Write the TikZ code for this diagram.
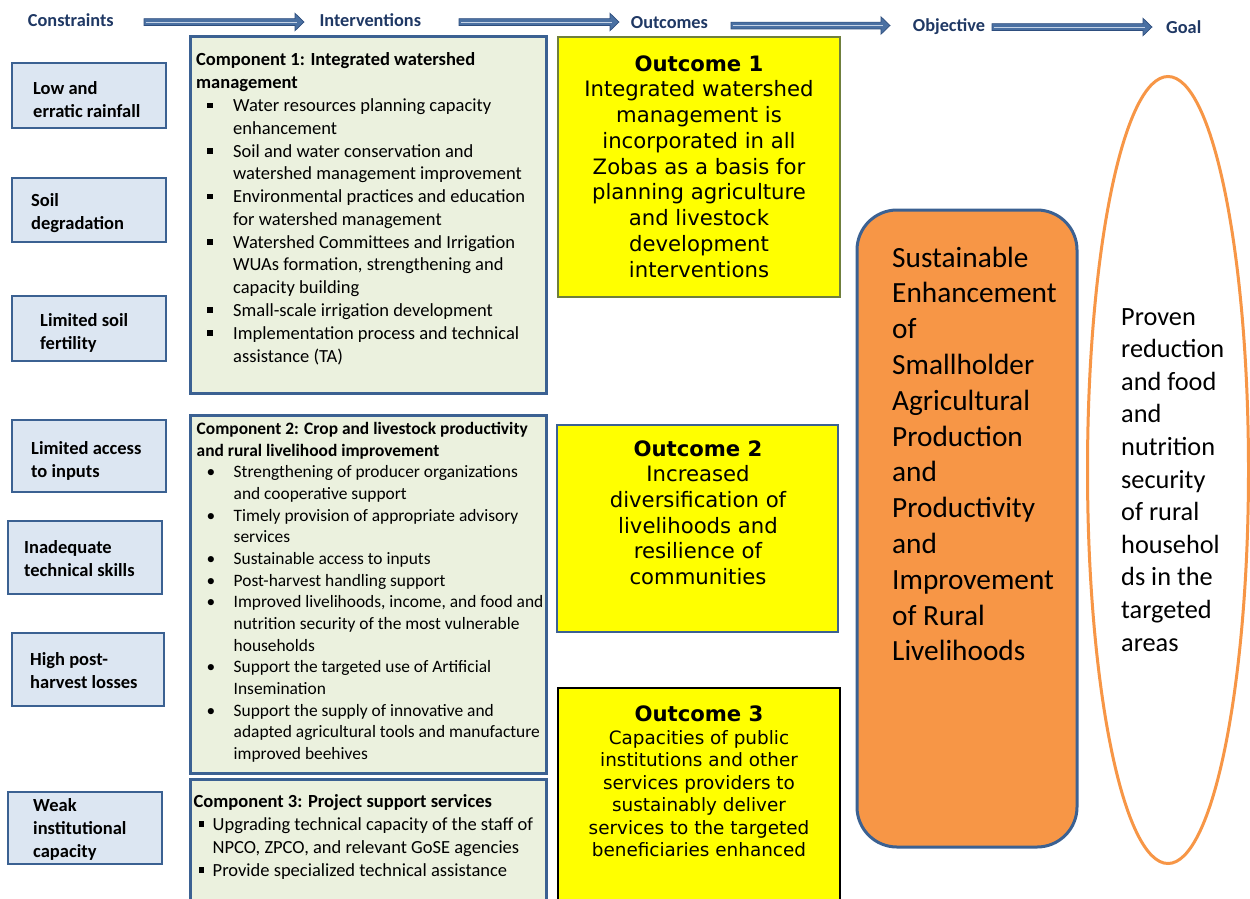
\documentclass[tikz,border=0pt]{standalone}
\usepackage{fontspec}
\setmainfont{Carlito}
\newfontfamily\vfont{DejaVu Sans}
\usetikzlibrary{shapes.geometric,calc}

\definecolor{hdrnavy}{HTML}{1F3864}
\definecolor{frameblue}{HTML}{3B6192}
\definecolor{arrowfill}{HTML}{4A70A2}
\definecolor{arrowline}{HTML}{2E4E7E}
\definecolor{stripe}{HTML}{C5D3E6}
\definecolor{constfill}{HTML}{DCE6F2}
\definecolor{compfill}{HTML}{EBF1DE}
\definecolor{outyellow}{HTML}{FFFF00}
\definecolor{olivefr}{HTML}{6F7F3C}
\definecolor{objfill}{HTML}{F79646}
\definecolor{goalline}{HTML}{F79646}

% bullets and hanging indents for the three component lists
\newcommand\bulA{\makebox[37pt][l]{\hspace{11pt}\rule[3.5pt]{5.5pt}{5.5pt}}}
\newcommand\contA{\hspace*{37pt}}
\newcommand\bulB{\makebox[37pt][l]{\hspace{10pt}\textbullet}}
\newcommand\contB{\hspace*{37pt}}
\newcommand\bulC{\makebox[19pt][l]{\hspace{5pt}\rule[3.5pt]{5.5pt}{5.5pt}}}
\newcommand\contC{\hspace*{19pt}}

% thin block arrow used in the header row
\newcommand\hdrarrow[2]{%
  \filldraw[fill=arrowfill, draw=arrowline, line width=0.7pt, line join=miter]
    ($(#1)+(0,-3.4)$) -- ($(#2)+(-9,-3.4)$) -- ($(#2)+(-9,-8.7)$) -- (#2)
    -- ($(#2)+(-9,8.7)$) -- ($(#2)+(-9,3.4)$) -- ($(#1)+(0,3.4)$) -- cycle;
  \draw[stripe, line width=0.9pt] ($(#1)+(1.5,0)$) -- ($(#2)+(-7,0)$);
}

\begin{document}
% multi-line text nodes are placed by the baseline of their last line
\begin{tikzpicture}[x=1pt,y=-1pt,
  hdr/.style={font=\fontsize{18.3}{22}\selectfont\bfseries, text=hdrnavy, inner sep=0pt, anchor=base west},
  consbox/.style={draw=frameblue, line width=2.6pt, fill=constfill, anchor=north west, inner sep=0pt, outer sep=0pt},
  constext/.style={font=\fontsize{18.5}{23}\selectfont\bfseries, align=left, anchor=base west, inner sep=0pt},
  compbox/.style={draw=frameblue, line width=3pt, fill=compfill, anchor=north west, inner sep=0pt, outer sep=0pt},
  comptext/.style={align=left, anchor=base west, inner sep=0pt},
  outbox/.style={fill=outyellow, anchor=north west, inner sep=0pt, outer sep=0pt},
  outtitle/.style={font=\vfont\bfseries\fontsize{21.2}{25.8}\selectfont, anchor=base, inner sep=0pt},
  outbody/.style={font=\vfont\fontsize{21.2}{25.8}\selectfont, align=center, anchor=base, inner sep=0pt},
]
\useasboundingbox[fill=white] (0,0) rectangle (1250,898);

% ---- header row ----
\node[hdr] (hcons) at (27.7,26) {Constraints};
\node[hdr] (hint) at (319.3,26) {Interventions};
\node[hdr] (hout) at (630.7,28.3) {Outcomes};
\node[hdr] (hobj) at (912.7,31) {Objective};
\node[hdr] (hgoal) at (1166,33.3) {Goal};

\coordinate (a1s) at (144,22);   \coordinate (a1e) at (304,22);
\coordinate (a2s) at (459,22);   \coordinate (a2e) at (619,22);
\coordinate (a3s) at (731,25.5); \coordinate (a3e) at (890,25.5);
\coordinate (a4s) at (992,27);   \coordinate (a4e) at (1152,27);
\hdrarrow{a1s}{a1e}
\hdrarrow{a2s}{a2e}
\hdrarrow{a3s}{a3e}
\hdrarrow{a4s}{a4e}

% ---- constraints ----
\node[consbox, minimum width=154pt, minimum height=65pt] (k1) at (12,63) {};
\node[constext] (k1t) at (33,117) {Low and\\erratic rainfall};
\node[consbox, minimum width=154pt, minimum height=64pt] (k2) at (12,178) {};
\node[constext] (k2t) at (31,229) {Soil\\degradation};
\node[consbox, minimum width=154pt, minimum height=65pt] (k3) at (12,296) {};
\node[constext] (k3t) at (40,349) {Limited soil\\fertility};
\node[consbox, minimum width=154pt, minimum height=72pt] (k4) at (12,420) {};
\node[constext] (k4t) at (31,477) {Limited access\\to inputs};
\node[consbox, minimum width=154pt, minimum height=73pt] (k5) at (8,521) {};
\node[constext] (k5t) at (24,576) {Inadequate\\technical skills};
\node[consbox, minimum width=152pt, minimum height=73pt] (k6) at (12,633) {};
\node[constext] (k6t) at (30,688) {High post-\\harvest losses};
\node[consbox, minimum width=154pt, minimum height=72pt] (k7) at (8,792) {};
\node[constext] (k7t) at (33,857) {Weak\\institutional\\capacity};

% ---- interventions ----
\node[compbox, minimum width=356pt, minimum height=357pt] (c1) at (190,36) {};
\node[comptext, font=\fontsize{18.5}{22.77}\selectfont] (c1t) at (196,362) {%
\textbf{Component 1: Integrated watershed}\\
\textbf{management}\\
\bulA Water resources planning capacity\\
\contA enhancement\\
\bulA Soil and water conservation and\\
\contA watershed management improvement\\
\bulA Environmental practices and education\\
\contA for watershed management\\
\bulA Watershed Committees and Irrigation\\
\contA WUAs formation, strengthening and\\
\contA capacity building\\
\bulA Small-scale irrigation development\\
\bulA Implementation process and technical\\
\contA assistance (TA)};

\node[compbox, minimum width=356pt, minimum height=358pt] (c2) at (190,415) {};
\node[comptext, font=\fontsize{17.4}{21.67}\selectfont] (c2t) at (196.5,759.5) {%
\textbf{Component 2: Crop and livestock productivity}\\
\textbf{and rural livelihood improvement}\\
\bulB Strengthening of producer organizations\\
\contB and cooperative support\\
\bulB Timely provision of appropriate advisory\\
\contB services\\
\bulB Sustainable access to inputs\\
\bulB Post-harvest handling support\\
\bulB Improved livelihoods, income, and food and\\
\contB nutrition security of the most vulnerable\\
\contB households\\
\bulB Support the targeted use of Artificial\\
\contB Insemination\\
\bulB Support the supply of innovative and\\
\contB adapted agricultural tools and manufacture\\
\contB improved beehives};

\node[compbox, minimum width=356pt, minimum height=140pt] (c3) at (190,779) {};
\node[comptext, font=\fontsize{18.5}{23}\selectfont] (c3t) at (193.5,876) {%
\textbf{Component 3: Project support services}\\
\bulC Upgrading technical capacity of the staff of\\
\contC NPCO, ZPCO, and relevant GoSE agencies\\
\bulC Provide specialized technical assistance};

% ---- outcomes ----
\node[outbox, draw=olivefr, line width=2pt, minimum width=282pt, minimum height=260pt] (o1) at (558,37) {};
\node[outtitle] (o1h) at (699,71) {Outcome 1};
\node[outbody] (o1t) at (699,277.3) {Integrated watershed\\management is\\incorporated in all\\Zobas as a basis for\\planning agriculture\\and livestock\\development\\interventions};

\node[outbox, draw=frameblue, line width=2pt, minimum width=281pt, minimum height=207pt] (o2) at (557,425) {};
\node[outtitle] (o2h) at (698,456) {Outcome 2};
\node[outbody] (o2t) at (698,584.7) {Increased\\diversification of\\livelihoods and\\resilience of\\communities};

\node[outbox, draw=black, line width=2.8pt, minimum width=282pt, minimum height=240pt] (o3) at (558,688) {};
\node[outtitle] (o3h) at (699,721) {Outcome 3};
\node[outbody, font=\vfont\fontsize{18.4}{22.5}\selectfont] (o3t) at (699,856.8) {Capacities of public\\institutions and other\\services providers to\\sustainably deliver\\services to the targeted\\beneficiaries enhanced};

% ---- objective ----
\node[draw=frameblue, line width=3pt, fill=objfill, rounded corners=40pt, anchor=north west,
      inner sep=0pt, outer sep=0pt, minimum width=220pt, minimum height=637pt] (obj) at (857,210) {};
\node[align=left, anchor=base west, inner sep=0pt, font=\fontsize{29.3}{35.8}\selectfont] (objt) at (892,660.8) {%
Sustainable\\Enhancement\\of\\Smallholder\\Agricultural\\Production\\and\\Productivity\\and\\Improvement\\of Rural\\Livelihoods};

% ---- goal ----
\node[ellipse, draw=goalline, line width=3pt, fill=white, inner sep=0pt, outer sep=0pt,
      minimum width=161pt, minimum height=787pt] (goal) at (1168,470) {};
\node[align=left, anchor=base west, inner sep=0pt, font=\fontsize{26.3}{32.6}\selectfont] (goalt) at (1121,651) {%
Proven\\reduction\\and food\\and\\nutrition\\security\\of rural\\househol\\ds in the\\targeted\\areas};
\end{tikzpicture}
\end{document}
